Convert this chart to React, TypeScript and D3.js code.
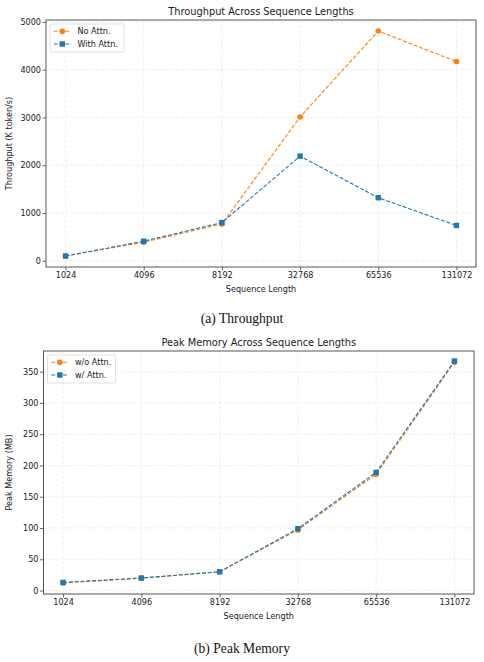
import React, { useRef, useEffect } from 'react';
import * as d3 from 'd3';

const seqLengths = ['1024', '4096', '8192', '32768', '65536', '131072'];

const throughputNoAttn = [100, 390, 770, 3010, 4810, 4170];
const throughputWithAttn = [100, 410, 800, 2190, 1320, 740];
const throughputTicks = [0, 1000, 2000, 3000, 4000, 5000];

const memoryNoAttn = [12, 20, 30, 97, 186, 365];
const memoryWithAttn = [13, 20, 30, 99, 189, 367];
const memoryTicks = [0, 50, 100, 150, 200, 250, 300, 350];

const ORANGE = '#ff7f0e';
const BLUE = '#1f77b4';
const FONT = 'DejaVu Sans, sans-serif';
const FS = 8.1;

interface PanelProps {
  top: number;
  left: number;
  right: number;
  plotTop: number;
  plotBottom: number;
  yDomain: [number, number];
  yTicks: number[];
  title: string;
  yLabel: string;
  caption: string;
  captionY: number;
  labels: [string, string];
  legendWidth: number;
  series: [number[], number[]];
}

function Panel(p: PanelProps): React.ReactElement {
  const ref = useRef<SVGGElement | null>(null);

  useEffect(() => {
    const g = d3.select(ref.current);
    g.selectAll('*').remove();

    const x = d3.scalePoint<string>()
      .domain(seqLengths)
      .range([p.left, p.right])
      .padding(0.25);
    const y = d3.scaleLinear().domain(p.yDomain).range([p.plotBottom, p.plotTop]);

    // grid
    g.append('g').selectAll('line').data(p.yTicks).enter().append('line')
      .attr('x1', p.left).attr('x2', p.right)
      .attr('y1', (d) => y(d)).attr('y2', (d) => y(d))
      .attr('stroke', '#e3e3e3').attr('stroke-width', 0.6).attr('stroke-dasharray', '3,2');
    g.append('g').selectAll('line').data(seqLengths).enter().append('line')
      .attr('x1', (d) => x(d)!).attr('x2', (d) => x(d)!)
      .attr('y1', p.plotTop).attr('y2', p.plotBottom)
      .attr('stroke', '#e3e3e3').attr('stroke-width', 0.6).attr('stroke-dasharray', '3,2');

    // axes
    const xAxis = g.append('g')
      .attr('transform', `translate(0,${p.plotBottom})`)
      .call(d3.axisBottom(x).tickSize(3.5).tickPadding(1.5));
    const yAxis = g.append('g')
      .attr('transform', `translate(${p.left},0)`)
      .call(d3.axisLeft(y).tickValues(p.yTicks).tickFormat(d3.format('d')).tickSize(3.5).tickPadding(1.5));
    [xAxis, yAxis].forEach((a) => {
      a.select('.domain').remove();
      a.selectAll('text').attr('font-family', FONT).attr('font-size', FS).attr('fill', '#1a1a1a');
      a.selectAll('line').attr('stroke', '#444').attr('stroke-width', 0.8);
    });

    g.append('rect')
      .attr('x', p.left).attr('y', p.plotTop)
      .attr('width', p.right - p.left).attr('height', p.plotBottom - p.plotTop)
      .attr('fill', 'none').attr('stroke', '#444').attr('stroke-width', 0.9);

    const line = d3.line<number>()
      .x((_, i) => x(seqLengths[i])!)
      .y((d) => y(d));

    const colors = [ORANGE, BLUE];
    p.series.forEach((s, k) => {
      g.append('path').datum(s)
        .attr('d', line)
        .attr('fill', 'none').attr('stroke', colors[k])
        .attr('stroke-width', 1.1).attr('stroke-dasharray', '4,1.8');
      if (k === 0) {
        g.append('g').selectAll('circle').data(s).enter().append('circle')
          .attr('cx', (_, i) => x(seqLengths[i])!).attr('cy', (d) => y(d))
          .attr('r', 2.8).attr('fill', colors[k]);
      } else {
        g.append('g').selectAll('rect').data(s).enter().append('rect')
          .attr('x', (_, i) => x(seqLengths[i])! - 2.7).attr('y', (d) => y(d) - 2.7)
          .attr('width', 5.4).attr('height', 5.4).attr('fill', colors[k]);
      }
    });

    // legend
    const lg = g.append('g').attr('transform', `translate(${p.left + 4},${p.plotTop + 4})`);
    lg.append('rect').attr('width', p.legendWidth).attr('height', 28).attr('rx', 1.5)
      .attr('fill', 'white').attr('fill-opacity', 0.8).attr('stroke', '#d6d6d6').attr('stroke-width', 0.7);
    p.labels.forEach((lab, k) => {
      const cy = 7.3 + k * 12.7;
      lg.append('line').attr('x1', 3.7).attr('x2', 21).attr('y1', cy).attr('y2', cy)
        .attr('stroke', colors[k]).attr('stroke-width', 1.1).attr('stroke-dasharray', '4,1.8');
      if (k === 0) {
        lg.append('circle').attr('cx', 12.3).attr('cy', cy).attr('r', 2.8).attr('fill', colors[k]);
      } else {
        lg.append('rect').attr('x', 9.6).attr('y', cy - 2.7).attr('width', 5.4).attr('height', 5.4).attr('fill', colors[k]);
      }
      lg.append('text').attr('x', 27.5).attr('y', cy).attr('dy', '0.35em')
        .attr('font-family', FONT).attr('font-size', FS).attr('fill', '#1a1a1a').text(lab);
    });

    // titles
    g.append('text').attr('x', (p.left + p.right) / 2).attr('y', p.top)
      .attr('text-anchor', 'middle').attr('font-family', FONT).attr('font-size', 9.8).attr('fill', '#1a1a1a')
      .text(p.title);
    g.append('text').attr('x', (p.left + p.right) / 2).attr('y', p.plotBottom + 25)
      .attr('text-anchor', 'middle').attr('font-family', FONT).attr('font-size', FS).attr('fill', '#1a1a1a')
      .text('Sequence Length');
    g.append('text')
      .attr('transform', `translate(12,${(p.plotTop + p.plotBottom) / 2}) rotate(-90)`)
      .attr('text-anchor', 'middle').attr('font-family', FONT).attr('font-size', FS).attr('fill', '#1a1a1a')
      .text(p.yLabel);
    g.append('text').attr('x', 242).attr('y', p.captionY)
      .attr('text-anchor', 'middle').attr('font-family', 'Liberation Serif, Times New Roman, serif')
      .attr('font-size', 13.6).attr('fill', '#111')
      .text(p.caption);
  }, [p]);

  return <g ref={ref} />;
}

export default function App(): React.ReactElement {
  return (
    <svg width={484} height={662} style={{ position: 'absolute', left: 0, top: 0, background: 'white' }}>
      <Panel
        top={14.5}
        left={46}
        right={476}
        plotTop={20}
        plotBottom={267}
        yDomain={[-130, 5040]}
        yTicks={throughputTicks}
        title="Throughput Across Sequence Lengths"
        yLabel="Throughput (K token/s)"
        caption="(a) Throughput"
        captionY={322.5}
        labels={['No Attn.', 'With Attn.']}
        legendWidth={74}
        series={[throughputNoAttn, throughputWithAttn]}
      />
      <Panel
        top={345.5}
        left={43.5}
        right={474}
        plotTop={351}
        plotBottom={594}
        yDomain={[-5.5, 383]}
        yTicks={memoryTicks}
        title="Peak Memory Across Sequence Lengths"
        yLabel="Peak Memory (MB)"
        caption="(b) Peak Memory"
        captionY={652.5}
        labels={['w/o Attn.', 'w/ Attn.']}
        legendWidth={68}
        series={[memoryNoAttn, memoryWithAttn]}
      />
    </svg>
  );
}
